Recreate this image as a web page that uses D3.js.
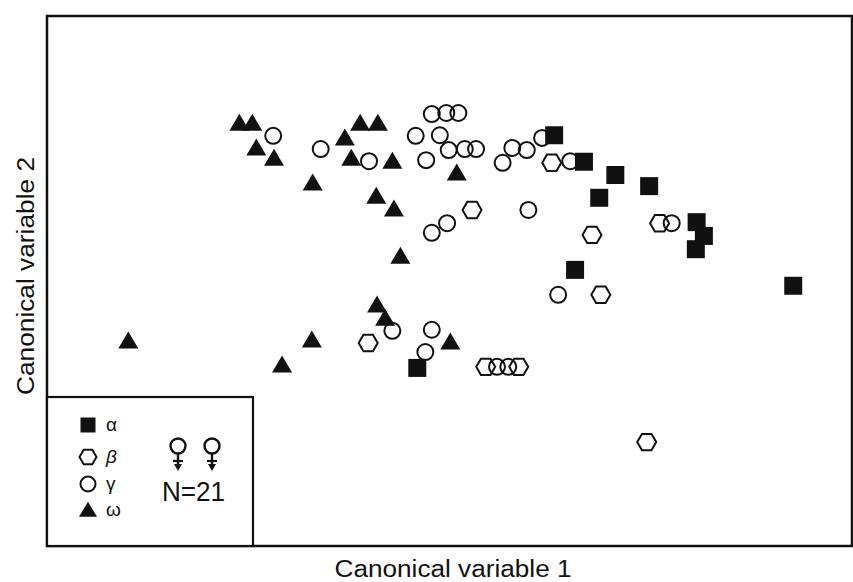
<!DOCTYPE html>
<meta charset="utf-8">
<style>
body { margin: 0; background: #fff; }
text { font-family: "Liberation Sans", Arial, sans-serif; fill: #111; }
</style>
<body>
<script src="https://cdn.jsdelivr.net/npm/d3@7"></script>
<script>

// canonical scores, [var1, var2]
var alpha = [[1.30,2.75],[1.67,2.25],[2.06,2.00],[2.48,1.79],[1.86,1.57],[3.07,1.11],
             [3.16,0.85],[3.06,0.60],[1.56,0.21],[4.27,-0.09],[-0.40,-1.64]];
var beta = [[1.27,2.23],[0.28,1.34],[1.77,0.87],[2.61,1.09],[1.88,-0.26],[-1.01,-1.17],
            [0.45,-1.62],[0.86,-1.62],[2.45,-3.04]];
var gamma = [[-2.19,2.74],[-1.60,2.49],[-1.00,2.26],[-0.42,2.74],[-0.22,3.15],[-0.04,3.17],
             [0.11,3.17],[-0.12,2.75],[-0.29,2.28],[-0.01,2.47],[0.19,2.49],[0.33,2.49],
             [0.66,2.23],[0.78,2.51],[0.96,2.47],[1.15,2.70],[1.50,2.26],[0.98,1.34],
             [-0.22,0.91],[-0.03,1.09],[2.76,1.09],[1.35,-0.26],[-0.71,-0.94],[-0.22,-0.92],
             [-0.30,-1.34],[0.59,-1.62],[0.73,-1.62]];
var omega = [[-2.61,2.98],[-2.45,2.98],[-2.40,2.51],[-2.18,2.32],[-1.70,1.85],[-1.30,2.70],
             [-1.11,2.98],[-0.89,2.98],[-1.22,2.32],[-0.71,2.26],[-0.91,1.60],[-0.69,1.36],
             [-0.61,0.47],[0.09,2.04],[-3.99,-1.13],[-2.08,-1.58],[-1.71,-1.11],[-0.90,-0.45],
             [-0.80,-0.70],[0.01,-1.15]];

var groups = ["α", "β", "γ", "ω"];
var sampleLabel = "N=21";
var xTitle = "Canonical variable 1";
var yTitle = "Canonical variable 2";

var W = 853, H = 582;
var box = {left: 47, top: 16, right: 852, bottom: 546};

var x = d3.scaleLinear().domain([-5, 5]).range([box.left, box.right]);
var y = d3.scaleLinear().domain([-5, 5]).range([box.bottom, box.top]);

var svg = d3.select("body").append("svg")
    .attr("width", W)
    .attr("height", H);

// shape paths, centred on 0,0
function squarePath(s) { var h = s / 2; return "M" + -h + "," + -h + "h" + s + "v" + s + "h" + -s + "Z"; }
function hexPath(r) {
  var p = d3.path();
  for (var k = 0; k < 6; k++) {
    var a = k * Math.PI / 3;
    if (k == 0) p.moveTo(r * Math.cos(a), r * Math.sin(a));
    else p.lineTo(r * Math.cos(a), r * Math.sin(a));
  }
  p.closePath();
  return p.toString();
}
function triPath(w, h) { return "M0," + (-h * 0.55) + "L" + (w / 2) + "," + (h * 0.45) + "L" + (-w / 2) + "," + (h * 0.45) + "Z"; }

var ink = "#111";

// frame
svg.append("rect")
    .attr("x", box.left).attr("y", box.top)
    .attr("width", box.right - box.left).attr("height", box.bottom - box.top)
    .attr("fill", "none").attr("stroke", ink).attr("stroke-width", 2.5);

// points
svg.append("g").selectAll("path").data(omega).enter().append("path")
    .attr("transform", function(d) { return "translate(" + x(d[0]) + "," + y(d[1]) + ")"; })
    .attr("d", triPath(20, 17))
    .attr("fill", ink);

svg.append("g").selectAll("circle").data(gamma).enter().append("circle")
    .attr("cx", function(d) { return x(d[0]); })
    .attr("cy", function(d) { return y(d[1]); })
    .attr("r", 8)
    .attr("fill", "none").attr("stroke", ink).attr("stroke-width", 2);

svg.append("g").selectAll("path").data(beta).enter().append("path")
    .attr("transform", function(d) { return "translate(" + x(d[0]) + "," + y(d[1]) + ")"; })
    .attr("d", hexPath(9.5))
    .attr("fill", "none").attr("stroke", ink).attr("stroke-width", 2);

svg.append("g").selectAll("path").data(alpha).enter().append("path")
    .attr("transform", function(d) { return "translate(" + x(d[0]) + "," + y(d[1]) + ")"; })
    .attr("d", squarePath(18))
    .attr("fill", ink);

// legend box
var lg = svg.append("g");
lg.append("rect")
    .attr("x", box.left).attr("y", 397)
    .attr("width", 253 - box.left).attr("height", box.bottom - 397)
    .attr("fill", "#fff").attr("stroke", ink).attr("stroke-width", 2.2);

var legY = [425, 457, 484, 510];
var legShapes = [
  function(g) { g.append("path").attr("d", squarePath(15)).attr("fill", ink); },
  function(g) { g.append("path").attr("d", hexPath(8.5)).attr("fill", "none").attr("stroke", ink).attr("stroke-width", 2); },
  function(g) { g.append("circle").attr("r", 7.5).attr("fill", "none").attr("stroke", ink).attr("stroke-width", 2); },
  function(g) { g.append("path").attr("d", triPath(18, 15)).attr("fill", ink); }
];
groups.forEach(function(name, i) {
  var g = lg.append("g").attr("transform", "translate(88," + legY[i] + ")");
  legShapes[i](g);
  g.append("text").attr("x", 18).attr("y", 6)
      .style("font-size", "19px")
      .style("font-style", i == 1 ? "italic" : "normal")
      .text(name);
});

// female signs
[178, 212].forEach(function(cx) {
  var g = lg.append("g").attr("transform", "translate(" + cx + ",446)");
  g.append("circle").attr("r", 7.5).attr("fill", "none").attr("stroke", ink).attr("stroke-width", 2.4);
  g.append("line").attr("x1", 0).attr("y1", 7.5).attr("x2", 0).attr("y2", 22).attr("stroke", ink).attr("stroke-width", 2.4);
  g.append("line").attr("x1", -5).attr("y1", 15).attr("x2", 5).attr("y2", 15).attr("stroke", ink).attr("stroke-width", 2.2);
  g.append("path").attr("d", "M-4,18L4,18L0,25Z").attr("fill", ink);
});

lg.append("text")
    .attr("x", 162).attr("y", 501)
    .attr("textLength", 63).attr("lengthAdjust", "spacingAndGlyphs")
    .style("font-size", "27px")
    .text(sampleLabel);

// axis titles
svg.append("text")
    .attr("x", 453).attr("y", 577)
    .attr("text-anchor", "middle")
    .attr("textLength", 237).attr("lengthAdjust", "spacingAndGlyphs")
    .style("font-size", "23px")
    .text(xTitle);

svg.append("text")
    .attr("transform", "translate(34,276) rotate(-90)")
    .attr("text-anchor", "middle")
    .attr("textLength", 238).attr("lengthAdjust", "spacingAndGlyphs")
    .style("font-size", "23px")
    .text(yTitle);

</script>
</body>
